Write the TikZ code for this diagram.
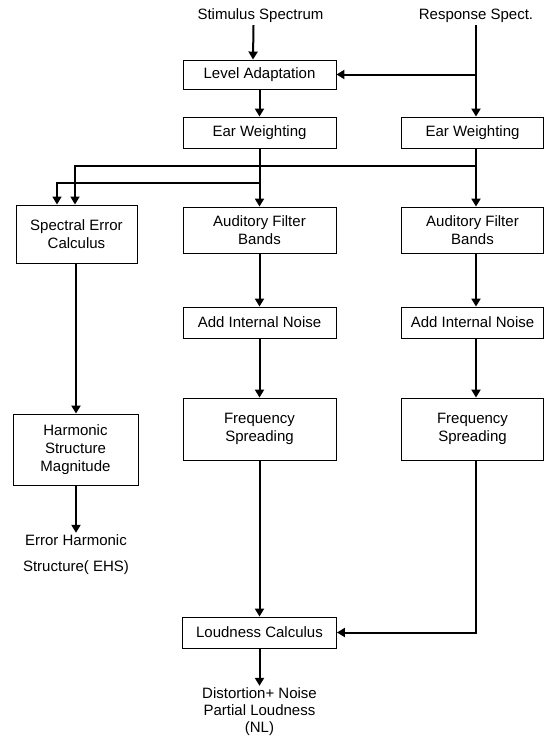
\documentclass[tikz,border=0pt]{standalone}
\usepackage{fontspec}
\setmainfont{Liberation Sans}
\usepackage{tikz}
\usetikzlibrary{arrows.meta}
\usetikzlibrary{positioning}

\begin{document}
\begin{tikzpicture}[x=1pt,y=-1pt]
	\tikzset{block/.style = {shape=rectangle,draw,line width=0.9pt,
			minimum width=153pt, minimum height=31pt,
			inner sep=0pt, align=center, font=\fontsize{15}{18}\selectfont}}
	\tikzset{txt/.style = {inner sep=2pt, align=center, font=\fontsize{15}{18}\selectfont}}
	\tikzset{edge/.style = {-{Triangle[length=8pt,width=9pt]}, line width=2pt}}
	\tikzset{edgethin/.style = {edge, line width=1.5pt}}
	
	\useasboundingbox (0,0) rectangle (544,736);
	
	% inputs
	\node[txt] (stim) at (260.5,16) {Stimulus Spectrum};
	\node[txt] (resp) at (476,16) {Response Spect.};
	
	% stimulus path
	\node[block, minimum height=29pt] (lvl) at (259.5,74.5) {Level Adaptation};
	\node[block] (ewS) at (259.5,132.5) {Ear Weighting};
	\node[block, minimum height=46pt] (afbS) at (259.5,230) {Auditory Filter\\Bands};
	\node[block] (ainS) at (259.5,322.5) {Add Internal Noise};
	\node[block, minimum height=62pt] (frqS) at (259.5,429) {Frequency\\Spreading};
	\node[block, minimum width=154pt] (loud) at (259.5,632.5) {Loudness Calculus};
	\node[txt] (nl) at (259.5,712) {Distortion+ Noise\\[-1pt]Partial Loudness\\[-1pt](NL)};
	
	% response path
	\node[block, minimum width=142pt] (ewR) at (472.5,132.5) {Ear Weighting};
	\node[block, minimum width=142pt, minimum height=46pt] (afbR) at (472.5,230) {Auditory Filter\\Bands};
	\node[block, minimum width=142pt] (ainR) at (472.5,322.5) {Add Internal Noise};
	\node[block, minimum width=142pt, minimum height=62pt] (frqR) at (472.5,429) {Frequency\\Spreading};
	
	% error path
	\node[block, minimum width=121pt, minimum height=58pt] (sec) at (76.5,234) {Spectral Error\\Calculus};
	\node[block, minimum width=125pt, minimum height=71pt] (hsm) at (75.5,449.5) {Harmonic\\Structure\\Magnitude};
	\node[txt] (ehs) at (76,555) {Error Harmonic\\[8pt]Structure( EHS)};
	
	%edges
	\draw[edge] ([xshift=-7pt]stim.south) -- ([xshift=-6.5pt]lvl.north);
	\draw[edge] (resp.south) -- (resp.south |- ewR.north);
	\draw[edge] (resp.south |- lvl.east) -- (lvl.east);
	\draw[edge] (lvl.south) -- (ewS.north);
	\draw[edge] (ewS.south) -- (afbS.north);
	\draw[edgethin] (ewS.south |- 0,183) -| ([xshift=-19.5pt]sec.north);
	\draw[edgethin] (resp.south |- 0,166) -| ([xshift=-1.5pt]sec.north);
	
	\draw[edge] (afbS.south) -- (ainS.north);
	\draw[edge] (ainS.south) -- (frqS.north);
	\draw[edge] (frqS.south) -- (loud.north);
	\draw[edge] (loud.south) -- (nl.north);
	
	\draw[edge] (ewR.south -| resp) -- (afbR.north -| resp);
	\draw[edge] (afbR.south -| resp) -- (ainR.north -| resp);
	\draw[edge] (ainR.south -| resp) -- (frqR.north -| resp);
	\draw[edge] (frqR.south -| resp) |- (loud.east);
	
	\draw[edge] (sec.south -| ehs) -- (hsm.north -| ehs);
	\draw[edge] (hsm.south -| ehs) -- (ehs.north);
	
\end{tikzpicture}
\end{document}
